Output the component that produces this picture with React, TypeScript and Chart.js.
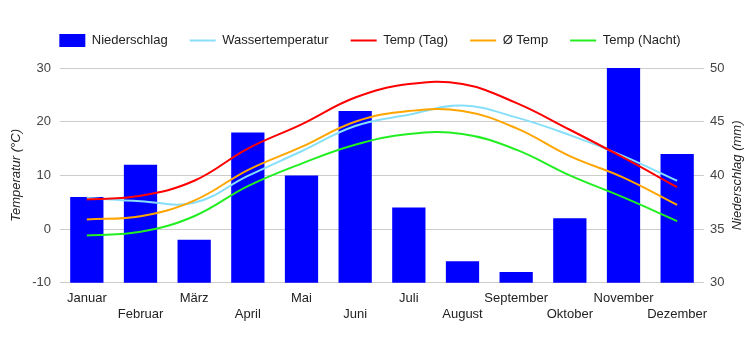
import React, { useEffect, useRef } from "react";
import { Chart, registerables } from "chart.js";

Chart.register(...registerables);

const months = ["Januar", "Februar", "März", "April", "Mai", "Juni", "Juli", "August", "September", "Oktober", "November", "Dezember"];
const niederschlag = [38, 41, 34, 44, 40, 46, 37, 32, 31, 36, 50, 42];
const wassertemperatur = [5.8, 5.2, 4.9, 9.9, 14.5, 19.2, 21.3, 23, 20.8, 17.5, 13.6, 9.0];
const tempTag = [5.5, 6.2, 9, 15, 19.5, 24.5, 27, 27, 23.5, 18.5, 13.3, 7.8];
const tempAvg = [1.8, 2.4, 5.3, 11, 15.3, 20, 22, 22, 18.8, 13.6, 9.6, 4.5];
const tempNacht = [-1.2, -0.5, 2.4, 8, 12.2, 15.7, 17.7, 17.7, 14.8, 10, 5.9, 1.5];
const leftTicks = [-10, 0, 10, 20, 30];
const rightTicks = [30, 35, 40, 45, 50];

const FONT = "Arial, 'Liberation Sans', sans-serif";

const titlesPlugin = {
  id: "axisTitles",
  afterDraw(chart: any) {
    const ctx = chart.ctx;
    const area = chart.chartArea;
    const midY = (area.top + area.bottom) / 2;
    ctx.save();
    ctx.font = `italic 13px ${FONT}`;
    ctx.fillStyle = "#222";
    ctx.textAlign = "center";
    ctx.textBaseline = "middle";
    ctx.translate(16, midY);
    ctx.rotate(-Math.PI / 2);
    ctx.fillText("Temperatur (°C)", 0, 0);
    ctx.restore();
    ctx.save();
    ctx.font = `italic 13px ${FONT}`;
    ctx.fillStyle = "#222";
    ctx.textAlign = "center";
    ctx.textBaseline = "middle";
    ctx.translate(737, midY);
    ctx.rotate(-Math.PI / 2);
    ctx.fillText("Niederschlag (mm)", 0, 0);
    ctx.restore();
  },
};

const legendSpacing = {
  id: "legendSpacing",
  beforeInit(chart: any) {
    const legend = chart.legend;
    if (!legend) return;
    const orig = legend.fit;
    legend.fit = function () {
      orig.call(this);
      this.height += 11;
    };
  },
};

export default function App() {
  const ref = useRef<HTMLCanvasElement>(null);
  useEffect(() => {
    if (!ref.current) return;
    const labels = months.map((m, i) => (i % 2 === 0 ? [m] : ["", m]));
    const lineDs = (label: string, data: number[], color: string, order: number) => ({
      type: "line" as const,
      label,
      data,
      borderColor: color,
      backgroundColor: color,
      borderWidth: 2,
      pointRadius: 0,
      tension: 0.4,
      yAxisID: "y",
      order,
      pointStyle: "line",
    });
    const chart = new Chart(ref.current, {
      type: "bar",
      data: {
        labels,
        datasets: [
          {
            type: "bar",
            label: "Niederschlag",
            data: niederschlag,
            backgroundColor: "#0000ff",
            yAxisID: "y1",
            categoryPercentage: 1,
            barPercentage: 0.62,
            order: 10,
            pointStyle: "rect",
          } as any,
          lineDs("Wassertemperatur", wassertemperatur, "#87dffa", 4),
          lineDs("Temp (Tag)", tempTag, "#ff0000", 3),
          lineDs("Ø Temp", tempAvg, "#ffa500", 2),
          lineDs("Temp (Nacht)", tempNacht, "#22ee22", 1),
        ],
      },
      options: {
        responsive: false,
        animation: false,
        maintainAspectRatio: false,
        layout: { padding: { left: 0, right: 10, top: 12, bottom: 20 } },
        plugins: {
          tooltip: { enabled: false },
          legend: {
            position: "top",
            labels: {
              usePointStyle: true,
              pointStyleWidth: 26,
              boxHeight: 13,
              padding: 22,
              color: "#222",
              font: { family: FONT, size: 13 },
              sort: (a: any, b: any) => a.datasetIndex - b.datasetIndex,
            },
          },
        },
        scales: {
          x: {
            grid: { display: false, drawTicks: false },
            border: { display: false },
            ticks: {
              color: "#222",
              font: { family: FONT, size: 13 },
              maxRotation: 0,
              autoSkip: false,
              padding: 8,
            },
          },
          y: {
            position: "left",
            min: -10,
            max: 30,
            afterBuildTicks: (s: any) => {
              s.ticks = leftTicks.map((v) => ({ value: v }));
            },
            afterFit: (s: any) => {
              s.width = 60;
            },
            grid: { color: "#cccccc", drawTicks: false },
            border: { display: false },
            ticks: { color: "#444", font: { family: FONT, size: 13 }, padding: 9 },
          },
          y1: {
            position: "right",
            min: 30,
            max: 50,
            afterBuildTicks: (s: any) => {
              s.ticks = rightTicks.map((v) => ({ value: v }));
            },
            afterFit: (s: any) => {
              s.width = 36;
            },
            grid: { display: false, drawTicks: false },
            border: { display: false },
            ticks: { color: "#444", font: { family: FONT, size: 13 }, padding: 6 },
          },
        },
      },
      plugins: [legendSpacing, titlesPlugin],
    } as any);
    return () => chart.destroy();
  }, []);
  return (
    <div style={{ position: "fixed", left: 0, top: 0, width: 750, height: 350, background: "#fff" }}>
      <canvas ref={ref} width={750} height={350} style={{ width: 750, height: 350 }} />
    </div>
  );
}
